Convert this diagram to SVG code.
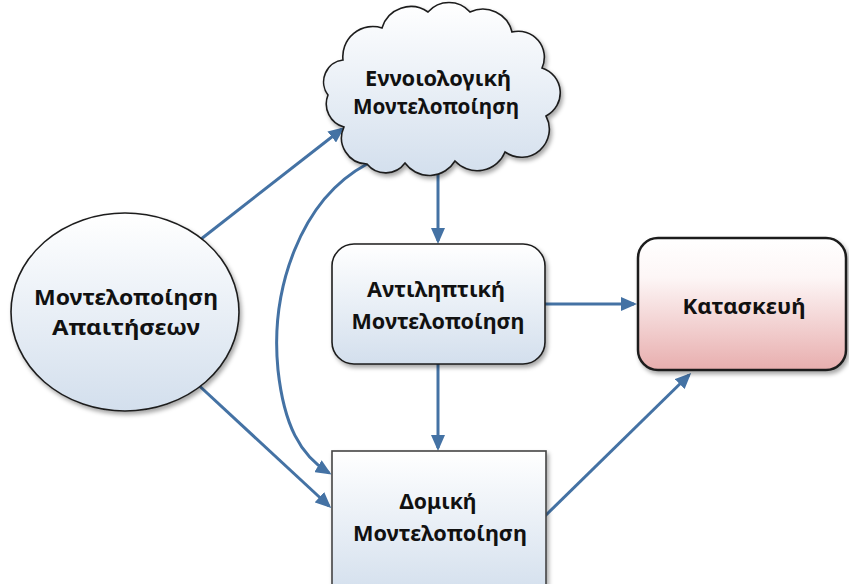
<svg xmlns="http://www.w3.org/2000/svg" width="849" height="584" viewBox="0 0 849 584">
  <style>
    .lbl { font-family: "Noto Sans", "DejaVu Sans", sans-serif; font-weight: 700; font-size: 21px; fill: #111; text-anchor: middle; }
    .edge { fill: none; stroke: #4472a4; stroke-width: 3; }
    .outline { stroke: #1e1e1e; stroke-width: 1.6; }
  </style>
  <defs>
    <linearGradient id="blueFill" x1="0" y1="0" x2="0" y2="1">
      <stop offset="0" stop-color="#ffffff"/>
      <stop offset="1" stop-color="#d3dfed"/>
    </linearGradient>
    <linearGradient id="pinkFill" x1="0" y1="0" x2="0" y2="1">
      <stop offset="0" stop-color="#ffffff"/>
      <stop offset="0.3" stop-color="#fdf6f6"/>
      <stop offset="1" stop-color="#e8aeae"/>
    </linearGradient>
    <filter id="shadow" x="-10%" y="-10%" width="125%" height="130%">
      <feDropShadow dx="2" dy="3" stdDeviation="2" flood-color="#000" flood-opacity="0.35"/>
    </filter>
    <marker id="arrow" viewBox="0 0 16 14" refX="13" refY="7" markerWidth="16" markerHeight="14" markerUnits="userSpaceOnUse" orient="auto">
      <path d="M0,0 L16,7 L0,14 Z" fill="#4472a4"/>
    </marker>
  </defs>

  <!-- Connectors -->
  <g id="connectors">
    <line class="edge" x1="196" y1="243" x2="342" y2="129" marker-end="url(#arrow)"/>
    <line class="edge" x1="193" y1="380" x2="329" y2="506" marker-end="url(#arrow)"/>
    <path class="edge" d="M367,164 C300,200 270,290 278,370 C284,425 300,455 329,473" marker-end="url(#arrow)"/>
    <line class="edge" x1="438" y1="170" x2="438" y2="241" marker-end="url(#arrow)"/>
    <line class="edge" x1="438" y1="364" x2="438" y2="448" marker-end="url(#arrow)"/>
    <line class="edge" x1="545" y1="304" x2="634" y2="304" marker-end="url(#arrow)"/>
    <line class="edge" x1="545" y1="516" x2="689" y2="375" marker-end="url(#arrow)"/>
  </g>

  <!-- Requirements modelling -->
  <g id="node-requirements">
    <ellipse cx="125" cy="312" rx="114" ry="99" fill="url(#blueFill)" class="outline" filter="url(#shadow)"/>
    <text class="lbl" x="126" y="305" font-size="23" textLength="184" lengthAdjust="spacingAndGlyphs">Μοντελοποίηση</text>
    <text class="lbl" x="126" y="335" font-size="23" textLength="148" lengthAdjust="spacingAndGlyphs">Απαιτήσεων</text>
  </g>

  <!-- Conceptual modelling (cloud) -->
  <g id="node-conceptual">
    <path fill="url(#blueFill)" class="outline" filter="url(#shadow)"
      d="M344,127
         A24,24 0 0 1 328,95
         A22,22 0 0 1 343,60
         A30,30 0 0 1 382,28
         A30,30 0 0 1 428,12
         A28,28 0 0 1 470,12
         A30,30 0 0 1 512,32
         A26,26 0 0 1 542,68
         A26,26 0 0 1 546,116
         A28,28 0 0 1 505,152
         A30,30 0 0 1 455,161
         A30,30 0 0 1 405,163
         A24,24 0 0 1 367,164
         A26,26 0 0 1 344,127 Z"/>
    <text class="lbl" x="438" y="86" textLength="146" lengthAdjust="spacingAndGlyphs">Εννοιολογική</text>
    <text class="lbl" x="436" y="114" textLength="166" lengthAdjust="spacingAndGlyphs">Μοντελοποίηση</text>
  </g>

  <!-- Perceptual modelling -->
  <g id="node-perceptual">
    <rect x="332" y="244" width="213" height="120" rx="22" fill="url(#blueFill)" class="outline" filter="url(#shadow)"/>
    <text class="lbl" x="436" y="297" textLength="138" lengthAdjust="spacingAndGlyphs">Αντιληπτική</text>
    <text class="lbl" x="438" y="329" textLength="173" lengthAdjust="spacingAndGlyphs">Μοντελοποίηση</text>
  </g>

  <!-- Construction -->
  <g id="node-construction">
    <rect x="638" y="238" width="208" height="132" rx="20" fill="url(#pinkFill)" stroke="#1e1e1e" stroke-width="2.5" filter="url(#shadow)"/>
    <text class="lbl" x="744" y="314" textLength="123" lengthAdjust="spacingAndGlyphs">Κατασκευή</text>
  </g>

  <!-- Structural modelling -->
  <g id="node-structural">
    <rect x="332" y="451" width="214" height="145" fill="url(#blueFill)" stroke="#444" stroke-width="1.6" filter="url(#shadow)"/>
    <text class="lbl" x="438" y="509" textLength="77" lengthAdjust="spacingAndGlyphs">Δομική</text>
    <text class="lbl" x="440" y="541" textLength="174" lengthAdjust="spacingAndGlyphs">Μοντελοποίηση</text>
  </g>
</svg>
